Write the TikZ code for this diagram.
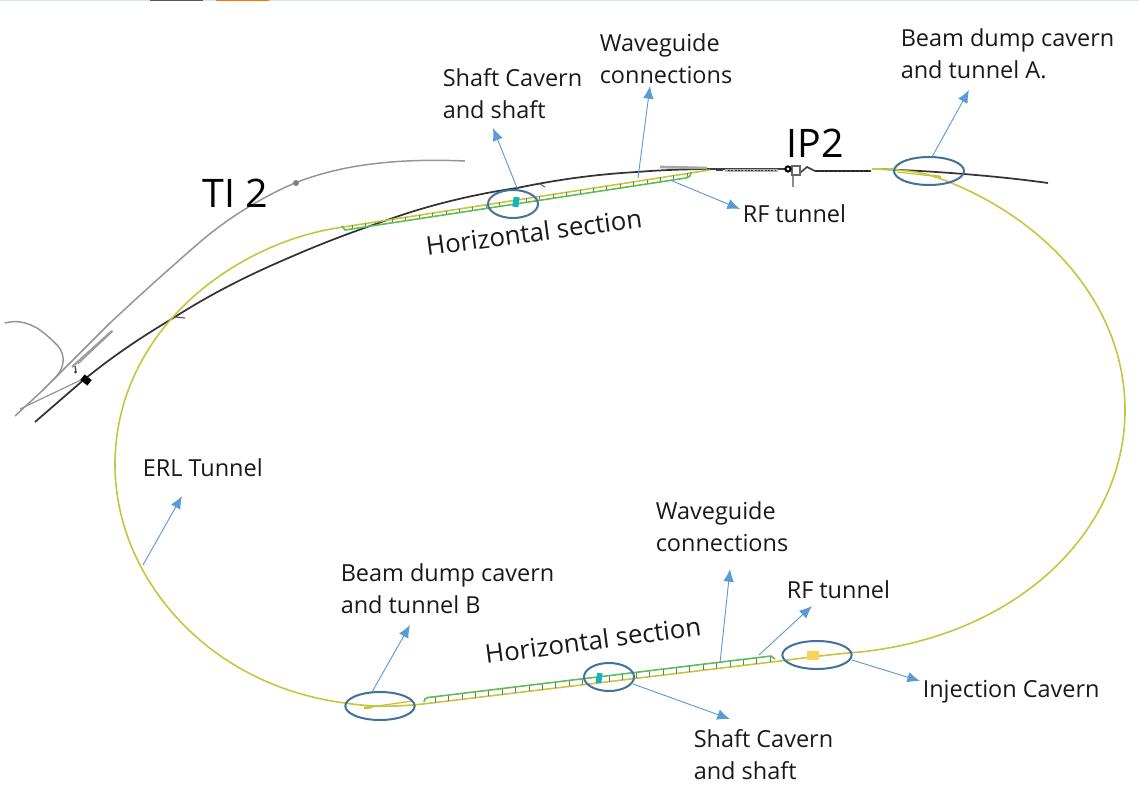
\documentclass[tikz,border=0pt]{standalone}
\usepackage{fontspec}
\setmainfont{Open Sans}
\usetikzlibrary{arrows.meta,shapes.geometric}
\definecolor{erl}{HTML}{C4C63E}
\definecolor{rfg}{HTML}{5DBE55}
\definecolor{ell}{HTML}{41719C}
\definecolor{arr}{HTML}{5B9BD5}
\definecolor{strip}{HTML}{D6E4F0}
\definecolor{shaftc}{HTML}{14B4BC}
\definecolor{injc}{HTML}{FFD257}
\tikzset{
  x=0.75pt,y=-0.75pt,
  lbl/.style={font=\fontsize{17.6}{24}\selectfont,align=left,anchor=west,inner sep=0pt,text=black!90},
  big/.style={font=\fontsize{29.5}{32}\selectfont,inner sep=0pt},
  sect/.style={font=\fontsize{19.3}{24}\selectfont,inner sep=0pt,text=black!90},
  ring/.style={ellipse,draw=ell,line width=1.5pt,fill=none,inner sep=0pt,minimum height=21pt},
  callout/.style={draw=arr,line width=0.7pt,-{Latex[length=9.5pt,width=8pt]}},
  erltube/.style={draw=erl,line width=1.2pt,line join=round},
  beam/.style={draw=black!80,line width=1.3pt},
  ti/.style={draw=black!42,line width=1.1pt},
  rung/.style={draw=black!55,line width=0.4pt},
  rfline/.style={draw=rfg,line width=1.2pt,line join=round}
}
\begin{document}
\begin{tikzpicture}
\useasboundingbox (0,0) rectangle (1139,785);
% top strip
\fill[strip] (0,0) rectangle (1139,1.2);
\fill[black!65] (150,0) rectangle (203,1.2);
\fill[orange!90!red] (216,0) rectangle (269,1.2);
% TI2 transfer line
\draw[ti] (465,161) .. controls (395,158) and (340,165) .. (295,183)
  .. controls (262,197) and (228,218) .. (200,242)
  .. controls (170,268) and (140,295) .. (110,323)
  -- (73,360) -- (43,390) -- (15,416);
\draw[ti,line width=0.9pt] (20,409) -- (85,378);
\draw[ti,line cap=round] (5,323) .. controls (16,320) and (26,322) .. (37,328)
  .. controls (46,334) and (52,340) .. (57,345)
  .. controls (66,354) and (65,368) .. (55,378);
\draw[ti,line width=1.6pt,draw=black!38] (72,367) -- (112,331);
\draw[ti,line width=0.7pt] (78,364) -- (113,331);
\fill[black!50] (296,183) circle (3);
\draw[black!70,line width=1pt] (75,366) -- (76,372);
\fill[black!75] (75.5,372) circle (1.5);
% black beam line
\draw[beam] (35,422) -- (80,383) .. controls (110,358) and (140,338) .. (170,320)
  .. controls (220,288) and (260,270) .. (300,253)
  .. controls (340,236) and (370,226) .. (393,218)
  .. controls (430,205) and (475,194) .. (517,188)
  .. controls (560,179) and (600,174) .. (637,172)
  .. controls (660,170) and (690,169) .. (715,169);
\draw[beam] (878,169) .. controls (930,171) and (990,175) .. (1048,183);
\draw[black!70,line width=0.8pt] (175,317) -- (185,318);
\draw[black!60,line width=0.8pt] (540,184) -- (545,187);
\fill[black,rotate around={-38:(86,380)}] (81.5,376.5) rectangle (90.5,383.5);
% IP2 detail
\draw[black!35,line width=2pt] (660,167) -- (707,168);
\draw[black!75,line width=1.2pt] (707,169) -- (788,169);
\draw[black!75,line width=2.2pt] (716,169.5) -- (723,169.5);
\draw[black!30,line width=2.4pt] (725,170.5) -- (778,170.5);
\draw[black!80,line width=1.2pt,dash pattern=on 1.5pt off 1pt] (728,170.5) -- (776,170.5);
\draw[black!75,line width=1.2pt] (796,172) -- (801,172) -- (807,167) -- (815,171) -- (871,171);
\draw[black!85,line width=1.8pt,dash pattern=on 2.5pt off 0.8pt] (816,171) -- (869,171);
\draw[black!45,line width=1.6pt] (793,174) -- (793,187);
\draw[black!60,line width=0.8pt,fill=white] (792,166) rectangle (800,175);
\draw[black,line width=1.5pt,fill=white] (788,169) circle (2.6);
% ERL tunnel
\draw[erltube] (710,170) -- (340,227.5) .. controls (235,243) and (115,330) .. (115,465)
  .. controls (115,575) and (205,685) .. (345,703)
  .. controls (370,707) and (395,707) .. (423,704) -- (780,661)
  .. controls (810,657) and (835,654) .. (860,652)
  .. controls (1020,635) and (1125,530) .. (1125,410)
  .. controls (1125,305) and (1045,215) .. (933,176)
  .. controls (915,171) and (895,169) .. (872,169);
\draw[erl,line width=1.8pt] (872,169) -- (883,169);
\draw[erl,line width=0.9pt] (897,172) -- (941,177);
\draw[erl,line width=2pt] (933,176) -- (941,177);
\draw[erl,line width=1pt] (364,708) -- (412,701);
\draw[erl,line width=2pt] (364,708) -- (372,707);
% top ladder and RF tunnel
\foreach \k in {0,...,25}{
  \pgfmathsetmacro{\xa}{352+13.4*\k}
  \pgfmathsetmacro{\ya}{225.7-0.1555*(\xa-350)}
  \draw[rung] (\xa,\ya) -- (\xa,\ya+4);
}
\draw[rfline] (342,226) -- (345,230) -- (686,178) -- (690,176) -- (691,172);
% bottom ladder and RF tunnel
\foreach \k in {0,...,25}{
  \pgfmathsetmacro{\xb}{435+13.4*\k}
  \pgfmathsetmacro{\yb}{696.7-0.121*(\xb-435)}
  \draw[rung] (\xb,\yb) -- (\xb,\yb+6);
}
\draw[rfline] (424,702) -- (425,699) -- (428,697.5) -- (771,656) -- (775,659);
% equipment
\fill[shaftc,rotate around={-8:(516,202)}] (513,197) rectangle (519,207);
\fill[shaftc,rotate around={-8:(599,678)}] (596.5,673) rectangle (602,683);
\fill[injc] (807,651) rectangle (819,660);
% rings
\node[ring,minimum width=37.5pt] (shaftA) at (513,204) {};
\node[ring,minimum width=52.5pt] (dumpA) at (929,171) {};
\node[ring,minimum width=52pt] (dumpB) at (380,706) {};
\node[ring,minimum width=37.5pt] (shaftB) at (609,677) {};
\node[ring,minimum width=52pt] (inj) at (817,655) {};
% labels
\node[lbl] (tShaftA) at (442.5,94) {Shaft Cavern\\and shaft};
\node[lbl] (tWaveA) at (599.5,59) {Waveguide\\connections};
\node[lbl] (tDumpA) at (900.5,54) {Beam dump cavern\\and tunnel A.};
\node[lbl] (tRfA) at (742.5,214) {RF tunnel};
\node[lbl] (tErl) at (142.5,468) {ERL Tunnel};
\node[lbl] (tDumpB) at (340.5,589) {Beam dump cavern\\and tunnel B};
\node[lbl] (tWaveB) at (655.5,527) {Waveguide\\connections};
\node[lbl] (tRfB) at (786.5,590) {RF tunnel};
\node[lbl] (tInj) at (922.5,691.5) {Injection Cavern};
\node[lbl] (tShaftB) at (693.5,755) {Shaft Cavern\\and shaft};
\node[big] (ti2) at (235.5,193) {TI 2};
\node[big] (ip2) at (815,143) {IP2};
\node[sect,rotate=7.5] (hA) at (534,232) {Horizontal section};
\node[sect,rotate=7.5] (hB) at (593,640) {Horizontal section};
% callouts
\coordinate (cA) at (517,188); \coordinate (cAe) at (493,128);
\coordinate (cB) at (638,178); \coordinate (cBe) at (650,86);
\coordinate (cC) at (670,180); \coordinate (cCe) at (740,209);
\coordinate (cD) at (932,157); \coordinate (cDe) at (969,90);
\coordinate (cE) at (143,565); \coordinate (cEe) at (182,496);
\coordinate (cF) at (372,692); \coordinate (cFe) at (410,625);
\coordinate (cG) at (720,663); \coordinate (cGe) at (730,569);
\coordinate (cH) at (759,655); \coordinate (cHe) at (812,606);
\coordinate (cI) at (633,684); \coordinate (cIe) at (730,719);
\coordinate (cJ) at (852,660); \coordinate (cJe) at (920,681);
\foreach \s/\e in {cA/cAe,cB/cBe,cC/cCe,cD/cDe,cE/cEe,cF/cFe,cG/cGe,cH/cHe,cI/cIe,cJ/cJe}
  \draw[callout] (\s) -- (\e);
\end{tikzpicture}
\end{document}
